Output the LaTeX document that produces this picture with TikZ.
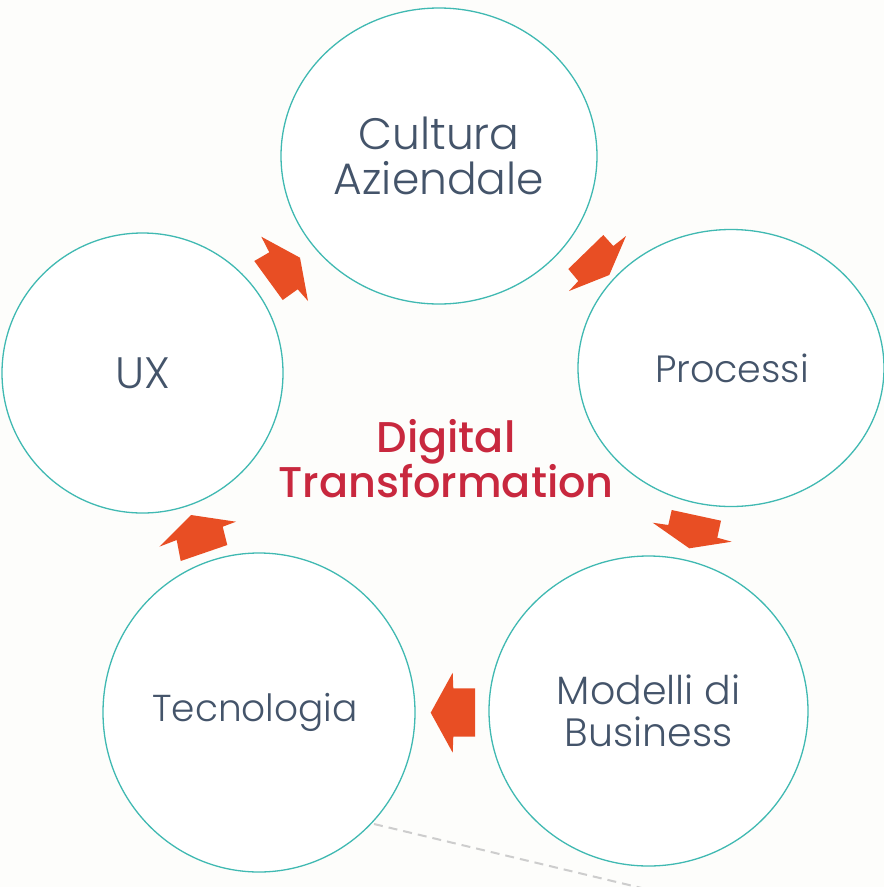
\documentclass[tikz,border=0pt]{standalone}
\usepackage{fontspec}
\setmainfont{Poppins}[UprightFont=* Light, BoldFont=* Medium]
\usetikzlibrary{shapes.geometric}
\definecolor{bgc}{RGB}{253,253,251}
\definecolor{teal}{RGB}{64,185,178}
\definecolor{arrowc}{RGB}{232,78,36}
\definecolor{txt}{RGB}{68,84,106}
\definecolor{crim}{RGB}{200,40,62}
\definecolor{dashc}{RGB}{205,205,205}
\tikzset{
  ring/.style={draw=teal, line width=1.3pt, fill=white, ellipse, inner sep=0pt, text=txt, align=center},
  big/.style={font=\fontsize{44}{45}\selectfont},
  blockarrow/.style={fill=arrowc, draw=none},
}
\begin{document}
\begin{tikzpicture}[x=1pt,y=-1pt]
\fill[bgc] (0,0) rectangle (884,887);
\useasboundingbox (0,0) rectangle (884,887);
\coordinate (d1) at (374,824);
\coordinate (d2) at (650,890);
\draw[dashc, line width=2pt, dash pattern=on 9pt off 6pt] (d1) -- (d2);
\node[ring, big, minimum width=316pt, minimum height=296pt] (cult) at (439,156) {Cultura\\Aziendale};
\node[ring, font=\fontsize{38}{42}\selectfont, minimum width=306pt, minimum height=277pt] (proc) at (731,368) {\hspace*{2pt}Processi};
\node[ring, big, minimum width=281pt, minimum height=280pt] (ux) at (142.5,373) {UX};
\node[ring, font=\fontsize{37.5}{42}\selectfont, minimum width=312pt, minimum height=319pt] (tec) at (259,712.5) {\hspace*{-8pt}Tecnologia};
\node[ring, font=\fontsize{39.5}{42}\selectfont, minimum width=319pt, minimum height=310pt] (mod) at (648.5,711) {Modelli di\\Business};
\node[text=crim, font=\fontsize{43}{45}\selectfont\bfseries, align=center] (dt) at (446,459) {Digital\\Transformation};
% block arrows
\fill[blockarrow] (261.3,236.7) -- (300,257.7) -- (308,301) -- (297.7,289.3) -- (282.7,300) -- (254.3,261) -- (269.3,252.3) -- cycle;
\fill[blockarrow] (603.3,235) -- (613.3,246) -- (626,236) -- (609.3,275) -- (569,291) -- (578.3,281) -- (568.3,269) -- cycle;
\fill[blockarrow] (671.7,510) -- (721,520.7) -- (717.3,537.7) -- (731.7,541.7) -- (689.3,548.3) -- (652.7,522.7) -- (668.3,525) -- cycle;
\fill[blockarrow] (475,688.3) -- (475,736.7) -- (453.3,736.7) -- (452.7,752.7) -- (430.7,712.7) -- (452.7,672.7) -- (453.3,688.3) -- cycle;
\fill[blockarrow] (191,515) -- (236,521.7) -- (222.7,526.7) -- (227.3,545) -- (180.7,561) -- (176.7,540) -- (159.3,546.7) -- cycle;
\end{tikzpicture}
\end{document}
